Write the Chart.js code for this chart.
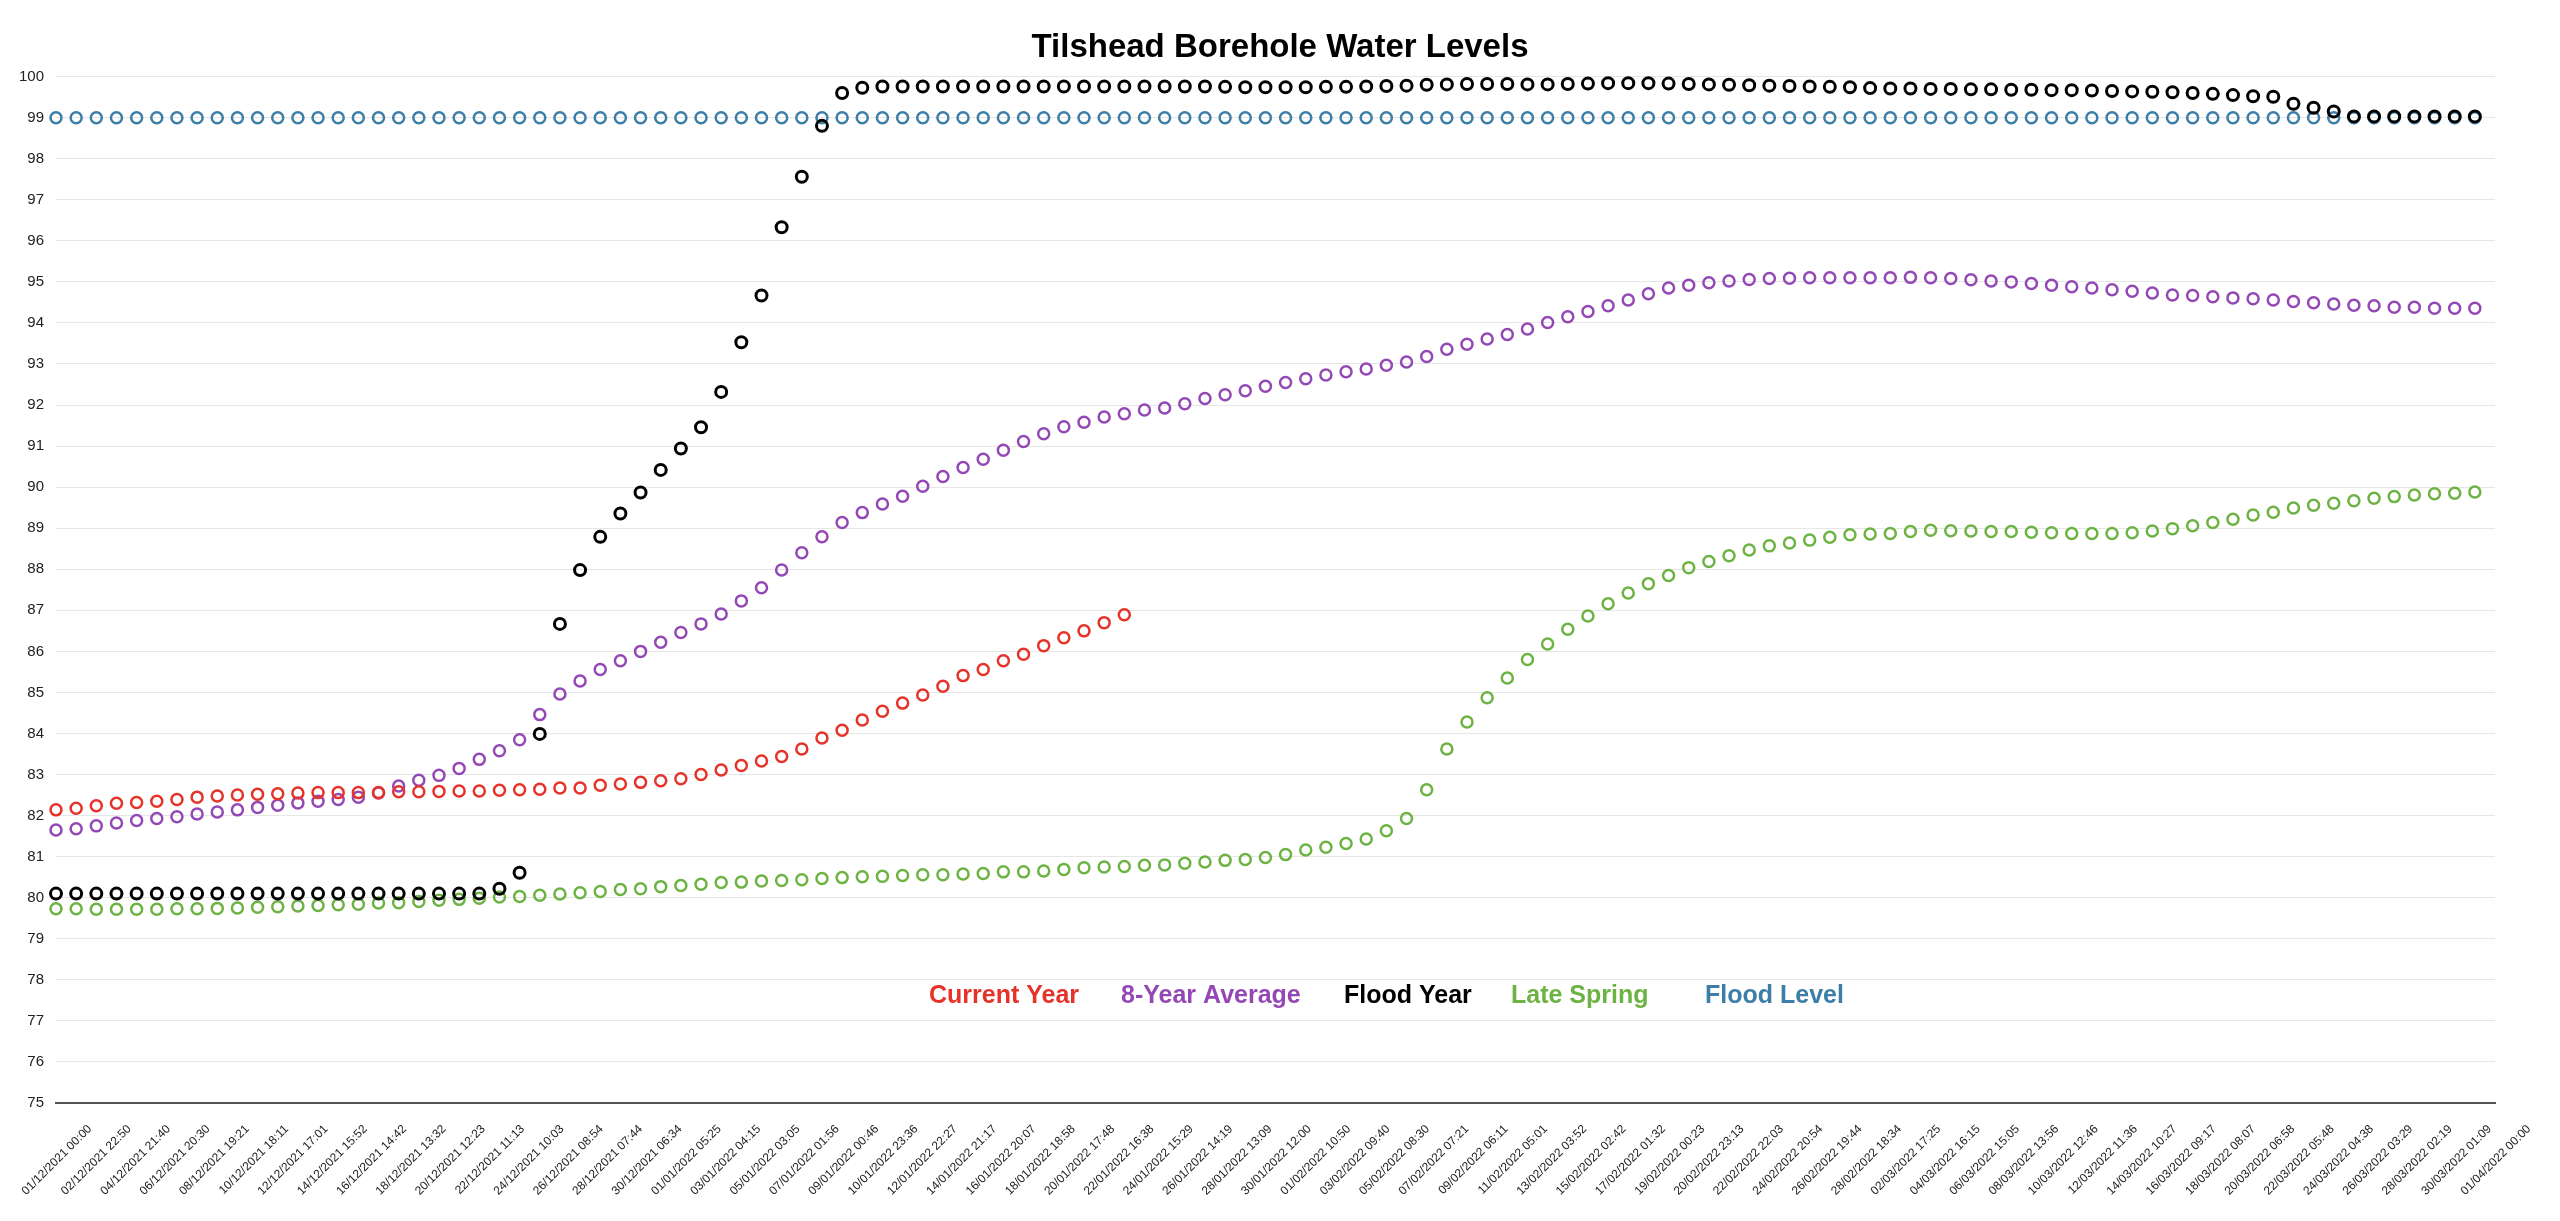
<!DOCTYPE html>
<html>
<head>
<meta charset="utf-8">
<title>Tilshead Borehole Water Levels</title>
<script src="https://cdn.jsdelivr.net/npm/chart.js"></script>
<style>
    html, body { margin: 0; padding: 0; background: #ffffff; }
    #chartBox { position: relative; width: 2560px; height: 1221px; }
</style>
</head>
<body>
<div id="chartBox"><canvas id="levelsChart"></canvas></div>
<script>
// One reading per day, 01/12/2021 (index 0) to 31/03/2022 (index 120)
const startDay = Date.UTC(2021, 11, 1);
const endDay = Date.UTC(2022, 3, 1);
const dayMs = 86400000;

const seriesNames = ['Current Year', '8-Year Average', 'Flood Year', 'Late Spring', 'Flood Level'];
const seriesColors = ['#e5332a', '#9448b5', '#000000', '#6db343', '#3c7ea7'];

const currentYear = [
    82.14, 82.18, 82.24, 82.30, 82.32, 82.35, 82.39, 82.45, 82.48, 82.50,
    82.52, 82.53, 82.55, 82.56, 82.56, 82.56, 82.56, 82.58, 82.58, 82.59,
    82.60, 82.60, 82.62, 82.63, 82.64, 82.67, 82.67, 82.74, 82.77, 82.81,
    82.85, 82.90, 83.00, 83.11, 83.22, 83.33, 83.44, 83.62, 83.89, 84.08,
    84.33, 84.54, 84.74, 84.94, 85.15, 85.41, 85.56, 85.77, 85.93, 86.14,
    86.33, 86.50, 86.70, 86.89
];

const eightYearAverage = [
    81.65, 81.68, 81.75, 81.82, 81.88, 81.93, 81.97, 82.04, 82.09, 82.14,
    82.20, 82.25, 82.31, 82.35, 82.39, 82.45, 82.55, 82.72, 82.86, 82.98,
    83.15, 83.37, 83.58, 83.85, 84.46, 84.96, 85.28, 85.56, 85.77, 86.00,
    86.22, 86.46, 86.67, 86.91, 87.23, 87.55, 87.98, 88.40, 88.79, 89.14,
    89.38, 89.59, 89.78, 90.02, 90.26, 90.48, 90.68, 90.90, 91.11, 91.30,
    91.47, 91.58, 91.71, 91.79, 91.88, 91.93, 92.03, 92.16, 92.25, 92.35,
    92.46, 92.55, 92.64, 92.73, 92.81, 92.88, 92.97, 93.05, 93.18, 93.36,
    93.48, 93.61, 93.72, 93.85, 94.01, 94.15, 94.28, 94.42, 94.56, 94.71,
    94.85, 94.92, 94.98, 95.02, 95.06, 95.08, 95.09, 95.10, 95.10, 95.10,
    95.10, 95.10, 95.11, 95.10, 95.08, 95.05, 95.02, 95.00, 94.96, 94.92,
    94.88, 94.85, 94.81, 94.77, 94.73, 94.68, 94.67, 94.64, 94.61, 94.59,
    94.56, 94.52, 94.49, 94.46, 94.43, 94.42, 94.38, 94.38, 94.36, 94.36,
    94.36
];

const floodYear = [
    80.10, 80.10, 80.10, 80.10, 80.10, 80.10, 80.10, 80.10, 80.10, 80.10,
    80.10, 80.10, 80.10, 80.10, 80.10, 80.10, 80.10, 80.10, 80.10, 80.10,
    80.10, 80.10, 80.22, 80.61, 83.99, 86.67, 87.98, 88.79, 89.36, 89.87,
    90.42, 90.94, 91.46, 92.32, 93.53, 94.67, 96.33, 97.56, 98.80, 99.60,
    99.73, 99.76, 99.76, 99.76, 99.76, 99.76, 99.76, 99.76, 99.76, 99.76,
    99.76, 99.76, 99.76, 99.76, 99.76, 99.76, 99.76, 99.76, 99.75, 99.74,
    99.74, 99.74, 99.74, 99.75, 99.75, 99.76, 99.77, 99.78, 99.80, 99.81,
    99.82, 99.82, 99.82, 99.81, 99.81, 99.82, 99.83, 99.84, 99.84, 99.84,
    99.83, 99.82, 99.81, 99.80, 99.79, 99.78, 99.77, 99.76, 99.75, 99.74,
    99.72, 99.71, 99.71, 99.70, 99.70, 99.69, 99.69, 99.68, 99.68, 99.67,
    99.67, 99.66, 99.65, 99.64, 99.63, 99.62, 99.60, 99.58, 99.55, 99.52,
    99.51, 99.34, 99.24, 99.15, 99.03, 99.03, 99.03, 99.03, 99.03, 99.03,
    99.03
];

const lateSpring = [
    79.73, 79.73, 79.72, 79.72, 79.72, 79.72, 79.73, 79.73, 79.74, 79.75,
    79.77, 79.78, 79.80, 79.81, 79.83, 79.84, 79.87, 79.88, 79.91, 79.94,
    79.96, 79.99, 80.02, 80.03, 80.06, 80.09, 80.12, 80.15, 80.20, 80.22,
    80.27, 80.30, 80.33, 80.37, 80.38, 80.41, 80.42, 80.44, 80.47, 80.49,
    80.51, 80.52, 80.54, 80.56, 80.56, 80.58, 80.59, 80.63, 80.63, 80.65,
    80.69, 80.73, 80.75, 80.76, 80.79, 80.80, 80.84, 80.87, 80.91, 80.93,
    80.98, 81.05, 81.16, 81.23, 81.32, 81.43, 81.63, 81.93, 82.63, 83.62,
    84.28, 84.87, 85.35, 85.80, 86.18, 86.54, 86.86, 87.16, 87.42, 87.65,
    87.85, 88.04, 88.19, 88.33, 88.47, 88.57, 88.64, 88.71, 88.78, 88.84,
    88.86, 88.87, 88.92, 88.95, 88.94, 88.93, 88.92, 88.92, 88.90, 88.89,
    88.87, 88.87, 88.87, 88.89, 88.93, 88.99, 89.06, 89.14, 89.22, 89.32,
    89.39, 89.49, 89.56, 89.61, 89.67, 89.73, 89.77, 89.81, 89.84, 89.85,
    89.88
];

const floodLevel = [
    99, 99, 99, 99, 99, 99, 99, 99, 99, 99, 99, 99, 99, 99, 99, 99, 99, 99, 99, 99,
    99, 99, 99, 99, 99, 99, 99, 99, 99, 99, 99, 99, 99, 99, 99, 99, 99, 99, 99, 99,
    99, 99, 99, 99, 99, 99, 99, 99, 99, 99, 99, 99, 99, 99, 99, 99, 99, 99, 99, 99,
    99, 99, 99, 99, 99, 99, 99, 99, 99, 99, 99, 99, 99, 99, 99, 99, 99, 99, 99, 99,
    99, 99, 99, 99, 99, 99, 99, 99, 99, 99, 99, 99, 99, 99, 99, 99, 99, 99, 99, 99,
    99, 99, 99, 99, 99, 99, 99, 99, 99, 99, 99, 99, 99, 99, 99, 99, 99, 99, 99, 99,
    99
];

// 63 evenly spaced ticks across the axis
const tickLabels = [
    '01/12/2021 00:00', '02/12/2021 22:50', '04/12/2021 21:40', '06/12/2021 20:30',
    '08/12/2021 19:21', '10/12/2021 18:11', '12/12/2021 17:01', '14/12/2021 15:52',
    '16/12/2021 14:42', '18/12/2021 13:32', '20/12/2021 12:23', '22/12/2021 11:13',
    '24/12/2021 10:03', '26/12/2021 08:54', '28/12/2021 07:44', '30/12/2021 06:34',
    '01/01/2022 05:25', '03/01/2022 04:15', '05/01/2022 03:05', '07/01/2022 01:56',
    '09/01/2022 00:46', '10/01/2022 23:36', '12/01/2022 22:27', '14/01/2022 21:17',
    '16/01/2022 20:07', '18/01/2022 18:58', '20/01/2022 17:48', '22/01/2022 16:38',
    '24/01/2022 15:29', '26/01/2022 14:19', '28/01/2022 13:09', '30/01/2022 12:00',
    '01/02/2022 10:50', '03/02/2022 09:40', '05/02/2022 08:30', '07/02/2022 07:21',
    '09/02/2022 06:11', '11/02/2022 05:01', '13/02/2022 03:52', '15/02/2022 02:42',
    '17/02/2022 01:32', '19/02/2022 00:23', '20/02/2022 23:13', '22/02/2022 22:03',
    '24/02/2022 20:54', '26/02/2022 19:44', '28/02/2022 18:34', '02/03/2022 17:25',
    '04/03/2022 16:15', '06/03/2022 15:05', '08/03/2022 13:56', '10/03/2022 12:46',
    '12/03/2022 11:36', '14/03/2022 10:27', '16/03/2022 09:17', '18/03/2022 08:07',
    '20/03/2022 06:58', '22/03/2022 05:48', '24/03/2022 04:38', '26/03/2022 03:29',
    '28/03/2022 02:19', '30/03/2022 01:09', '01/04/2022 00:00'
];

const fontFamily = '"Liberation Sans", Arial, Helvetica, sans-serif';

function toPoints(values) {
    return values.map((v, i) => ({ x: startDay + i * dayMs, y: v }));
}

function makeDataset(index, values) {
    return {
        label: seriesNames[index],
        data: toPoints(values),
        showLine: false,
        borderColor: seriesColors[index],
        backgroundColor: 'rgba(0, 0, 0, 0)',
        pointRadius: 5.5,
        pointBorderWidth: index === 2 ? 3 : 2.5,
        pointHoverRadius: 5.5,
        clip: false
    };
}

// Legend drawn as coloured words inside the plot, as in the original
const legendLefts = [929, 1121, 1344, 1511, 1705];
const inlineLegend = {
    id: 'inlineLegend',
    afterDraw(chart) {
        const ctx = chart.ctx;
        const y = chart.scales.y.getPixelForValue(77.6);
        ctx.save();
        ctx.font = 'bold 25px ' + fontFamily;
        ctx.textBaseline = 'middle';
        ctx.textAlign = 'left';
        chart.data.datasets.forEach((ds, i) => {
            ctx.fillStyle = ds.borderColor;
            ctx.fillText(ds.label, legendLefts[i], y);
        });
        ctx.restore();
    }
};

const config = {
    type: 'line',
    data: {
        datasets: [
            makeDataset(0, currentYear),
            makeDataset(1, eightYearAverage),
            makeDataset(2, floodYear),
            makeDataset(3, lateSpring),
            makeDataset(4, floodLevel)
        ]
    },
    options: {
        responsive: true,
        maintainAspectRatio: false,
        animation: false,
        layout: {
            autoPadding: false,
            padding: 0
        },
        plugins: {
            legend: { display: false },
            tooltip: { enabled: false },
            title: {
                display: true,
                text: 'Tilshead Borehole Water Levels',
                color: '#000000',
                font: { family: fontFamily, size: 33, weight: 'bold' },
                padding: { top: 28, bottom: 9 }
            }
        },
        scales: {
            x: {
                type: 'linear',
                min: startDay,
                max: endDay,
                afterBuildTicks: function(scale) {
                    const step = (endDay - startDay) / (tickLabels.length - 1);
                    scale.ticks = tickLabels.map((_, k) => ({ value: startDay + k * step }));
                },
                afterFit: function(scale) {
                    scale.height = 118;
                    scale.paddingLeft = 0;
                    scale.paddingRight = 0;
                },
                grid: { display: false },
                border: { display: true, color: '#555555', width: 2 },
                ticks: {
                    autoSkip: false,
                    maxRotation: 45,
                    minRotation: 45,
                    labelOffset: 34,
                    padding: 11,
                    color: '#222222',
                    font: { family: fontFamily, size: 12 },
                    callback: function(value, index) {
                        return tickLabels[index];
                    }
                }
            },
            y: {
                min: 75,
                max: 100,
                afterFit: function(scale) {
                    scale.width = 56;
                    scale.paddingTop = 0;
                    scale.paddingBottom = 0;
                },
                grid: { color: '#e6e6e6', drawTicks: false },
                border: { display: false },
                ticks: {
                    stepSize: 1,
                    padding: 12,
                    color: '#222222',
                    font: { family: fontFamily, size: 15 }
                }
            },
            // empty strip on the right, keeps the plot clear of the canvas edge
            rightGap: {
                position: 'right',
                grid: { display: false },
                border: { display: false },
                ticks: { display: false },
                afterFit: function(scale) {
                    scale.width = 65;
                }
            }
        }
    },
    plugins: [inlineLegend]
};

window.levelsChart = new Chart(document.getElementById('levelsChart'), config);
</script>
</body>
</html>
